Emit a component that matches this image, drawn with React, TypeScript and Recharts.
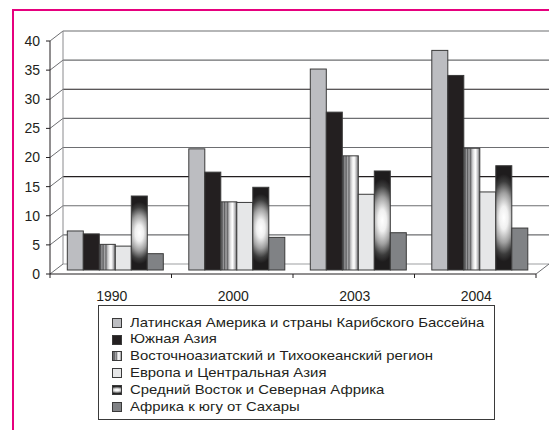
import React from 'react';
import { BarChart, Bar, XAxis, YAxis, CartesianGrid } from 'recharts';

const years = ['1990', '2000', '2003', '2004'];
const latinAmerica = [6.7, 20.8, 34.5, 37.7];
const southAsia = [6.2, 16.8, 27.1, 33.4];
const eastAsiaPacific = [4.4, 11.7, 19.6, 20.9];
const europeCentralAsia = [4.1, 11.6, 13.0, 13.4];
const middleEastNorthAfrica = [12.7, 14.2, 17.0, 17.9];
const subSaharanAfrica = [2.8, 5.6, 6.4, 7.2];
const yTicks = [0, 5, 10, 15, 20, 25, 30, 35, 40];
const seriesNames = [
  'Латинская Америка и страны Карибского Бассейна',
  'Южная Азия',
  'Восточноазиатский и Тихоокеанский регион',
  'Европа и Центральная Азия',
  'Средний Восток и Северная Африка',
  'Африка к югу от Сахары',
];

const seriesValues = [
  latinAmerica,
  southAsia,
  eastAsiaPacific,
  europeCentralAsia,
  middleEastNorthAfrica,
  subSaharanAfrica,
];
const seriesFills = [
  '#bcbdc1',
  '#231f20',
  'url(#stripesGrad)',
  '#e6e7e8',
  'url(#glowGrad)',
  '#808285',
];

const data = years.map((y, i) => {
  const row: Record<string, string | number> = { year: y };
  seriesValues.forEach((s, k) => {
    row['s' + k] = s[i];
  });
  return row;
});

const FONT = '"Liberation Sans", Arial, Helvetica, sans-serif';
const BAR_DX = 6;
const BAR_DY = -4;
const WALL_DX = 13;
const WALL_DY = -10;
const CHART_W = 549;

const makeShape = (fill: string) => (p: any) => {
  if (p.height == null || p.width == null) return <g />;
  return (
    <rect
      x={p.x + BAR_DX}
      y={p.y + BAR_DY}
      width={p.width}
      height={p.height}
      fill={fill}
      stroke="#3a3a3a"
      strokeWidth={1}
    />
  );
};

const GridLine = (p: any) => {
  const y = p.y1;
  const x = p.x1;
  const top = p.y;
  const h = p.height;
  const v = h ? Math.round(((top + h - y) / h) * 40) : -1;
  const isFloor = v === 0;
  const dark = v === 15 || v === 30;
  return (
    <g key={'grid-' + p.index}>
      <line x1={x} y1={y} x2={x + WALL_DX} y2={y + WALL_DY} stroke="#6d6e71" strokeWidth={1} />
      <line
        x1={x + WALL_DX}
        y1={y + WALL_DY}
        x2={CHART_W}
        y2={y + WALL_DY}
        stroke={isFloor ? '#9d9fa2' : dark ? '#231f20' : '#6d6e71'}
        strokeWidth={1.2}
      />
      {Math.abs(y - top) < 0.5 && h ? (
        <line
          x1={x + WALL_DX}
          y1={top + WALL_DY}
          x2={x + WALL_DX}
          y2={top + h + WALL_DY}
          stroke="#8a8a8d"
          strokeWidth={1}
        />
      ) : null}
    </g>
  );
};

const XTick = (p: any) => {
  const { x, y, payload, index, visibleTicksCount } = p;
  const half = payload && payload.offset ? payload.offset : 60.75;
  const last = index === visibleTicksCount - 1;
  return (
    <g>
      <line x1={x - half} y1={y} x2={x - half} y2={y + 4} stroke="#231f20" strokeWidth={1} />
      {last ? (
        <g>
          <line x1={x + half} y1={y} x2={x + half} y2={y + 4} stroke="#231f20" strokeWidth={1} />
          <line x1={x + half} y1={y} x2={x + half + WALL_DX} y2={y + WALL_DY} stroke="#6d6e71" strokeWidth={1} />
        </g>
      ) : null}
      <text x={x + 1} y={y + 27} textAnchor="middle" fontSize={14} fontFamily={FONT} fill="#231f20">
        {payload.value}
      </text>
    </g>
  );
};

const Defs = ({ suffix }: { suffix: string }) => (
  <defs>
    <linearGradient id={'stripesGrad' + suffix} x1="0" y1="0" x2="1" y2="0">
      <stop offset="0" stopColor="#7d7d7f" />
      <stop offset="0.08" stopColor="#505052" />
      <stop offset="0.16" stopColor="#9a9a9c" />
      <stop offset="0.24" stopColor="#5a5a5c" />
      <stop offset="0.32" stopColor="#a8a8aa" />
      <stop offset="0.42" stopColor="#6a6a6c" />
      <stop offset="0.52" stopColor="#c0c0c2" />
      <stop offset="0.64" stopColor="#eeeeee" />
      <stop offset="0.74" stopColor="#ffffff" />
      <stop offset="0.86" stopColor="#c4c4c6" />
      <stop offset="1" stopColor="#6a6a6c" />
    </linearGradient>
    <radialGradient
      id={'glowGrad' + suffix}
      cx="0.5"
      cy="0.5"
      r="0.5"
      gradientTransform="translate(0.5 0.5) scale(2.4 1) translate(-0.5 -0.5)"
    >
      <stop offset="0" stopColor="#ffffff" />
      <stop offset="0.22" stopColor="#f0f0f0" />
      <stop offset="0.48" stopColor="#a0a0a0" />
      <stop offset="0.7" stopColor="#3c3c3c" />
      <stop offset="0.84" stopColor="#1e1c1d" />
      <stop offset="1" stopColor="#1e1c1d" />
    </radialGradient>
  </defs>
);

export default function App() {
  return (
    <div
      style={{
        position: 'fixed',
        left: 0,
        top: 0,
        width: 549,
        height: 430,
        background: '#ffffff',
        overflow: 'hidden',
        fontFamily: FONT,
      }}
    >
      <svg width={0} height={0} style={{ position: 'absolute' }}>
        <Defs suffix="" />
        <Defs suffix="L" />
      </svg>
      <div
        style={{
          position: 'absolute',
          left: 12,
          top: 9,
          width: 600,
          height: 500,
          borderTop: '2.5px solid #e6007e',
          borderLeft: '2.5px solid #e6007e',
        }}
      />
      <div style={{ position: 'absolute', left: 0, top: 0 }}>
        <BarChart
          width={549}
          height={430}
          data={data}
          margin={{ top: 41, right: 13, left: 0, bottom: 126 }}
          barCategoryGap="9.3%"
          barGap={0}
        >
          <CartesianGrid horizontal={GridLine} vertical={false} />
          <XAxis
            dataKey="year"
            tickLine={false}
            tickSize={0}
            tickMargin={0}
            height={30}
            axisLine={{ stroke: '#231f20', strokeWidth: 1 }}
            tick={XTick}
            interval={0}
          />
          <YAxis
            width={50}
            domain={[0, 40]}
            ticks={yTicks}
            tickSize={4}
            tickMargin={6}
            axisLine={{ stroke: '#231f20', strokeWidth: 1 }}
            tickLine={{ stroke: '#231f20' }}
            tick={{ fill: '#231f20', fontSize: 14, fontFamily: FONT }}
          />
          {seriesNames.map((name, k) => (
            <Bar
              key={name}
              dataKey={'s' + k}
              name={name}
              fill={seriesFills[k]}
              isAnimationActive={false}
              shape={makeShape(seriesFills[k])}
            />
          ))}
        </BarChart>
      </div>
      <div
        style={{
          position: 'absolute',
          left: 98,
          top: 305,
          width: 397,
          height: 115,
          border: '1.5px solid #3a3a3a',
          boxSizing: 'border-box',
        }}
      >
        {seriesNames.map((name, k) => {
          const lf = seriesFills[k].startsWith('url(')
            ? seriesFills[k].replace(')', 'L)')
            : seriesFills[k];
          return (
            <div
              key={name}
              style={{
                position: 'absolute',
                left: 13,
                top: 8.5 + k * 16.8,
                height: 16.8,
                lineHeight: '16.8px',
                whiteSpace: 'nowrap',
                fontSize: 13,
                color: '#231f20',
                display: 'flex',
                alignItems: 'center',
              }}
            >
              <svg width={10} height={10} style={{ marginRight: 8 }}>
                <rect x={0.5} y={0.5} width={9} height={9} fill={lf} stroke="#3a3a3a" strokeWidth={1} />
              </svg>
              <span
                style={{
                  display: 'inline-block',
                  transform: 'scaleX(1.145)',
                  transformOrigin: 'left center',
                }}
              >
                {name}
              </span>
            </div>
          );
        })}
      </div>
    </div>
  );
}
